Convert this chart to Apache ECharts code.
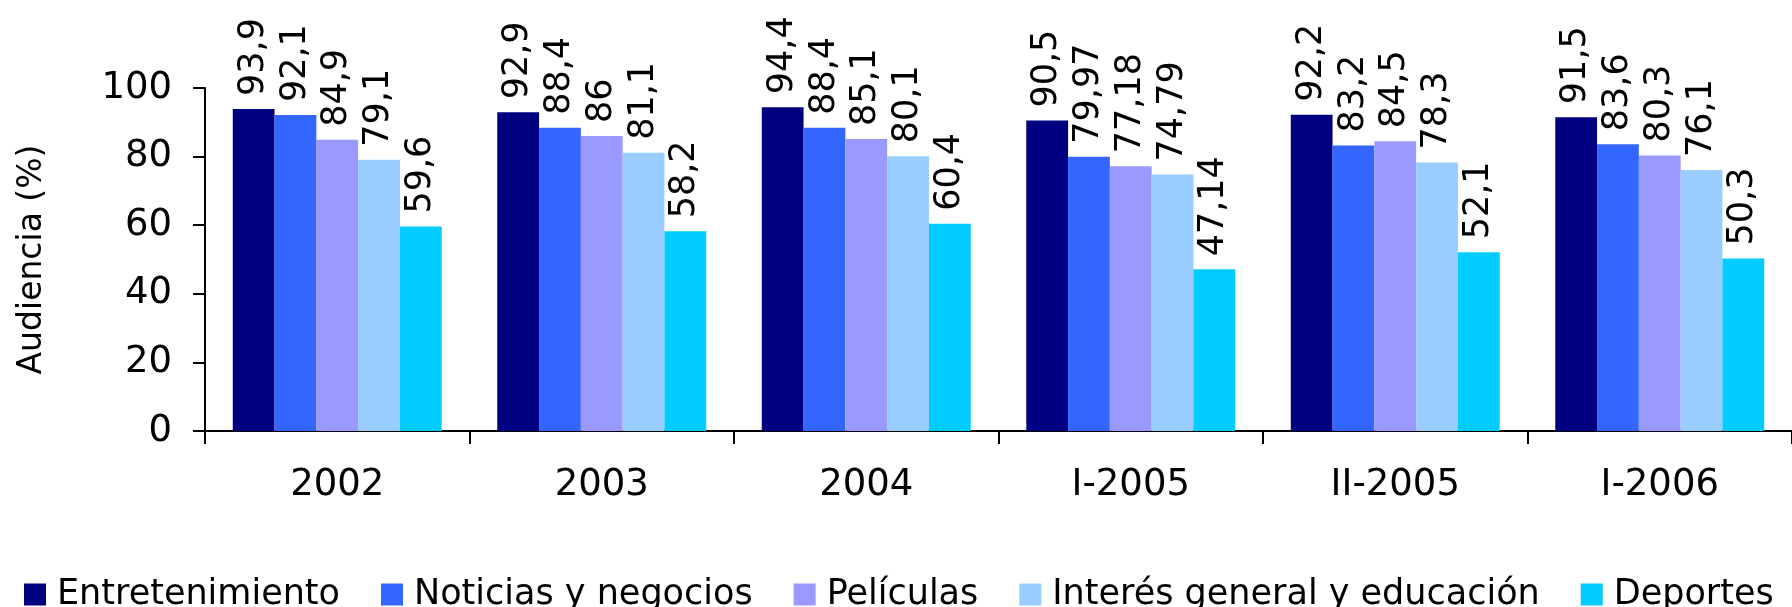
<!DOCTYPE html>
<html>
<head>
<meta charset="utf-8">
<title>Audiencia por tipo de programa</title>
<script src="https://cdn.jsdelivr.net/npm/echarts@6/dist/echarts.min.js"></script>
<style>
  html, body { margin: 0; padding: 0; background: #ffffff; }
  #chart { width: 1792px; height: 607px; }
</style>
</head>
<body>
<div id="chart"></div>
<script>
// Periods on the category axis
const periods = ['2002', '2003', '2004', 'I-2005', 'II-2005', 'I-2006'];

// Audience share (%) per programme type, one value per period
const entretenimiento = [93.9, 92.9, 94.4, 90.5, 92.2, 91.5];
const noticias = [92.1, 88.4, 88.4, 79.97, 83.2, 83.6];
const peliculas = [84.9, 86, 85.1, 77.18, 84.5, 80.3];
const interesGeneral = [79.1, 81.1, 80.1, 74.79, 78.3, 76.1];
const deportes = [59.6, 58.2, 60.4, 47.14, 52.1, 50.3];

// Value axis ticks
const yTicks = [0, 20, 40, 60, 80, 100];

const seriesDefs = [
  { name: 'Entretenimiento', data: entretenimiento, color: '#000080' },
  { name: 'Noticias y negocios', data: noticias, color: '#3366FF' },
  { name: 'Películas', data: peliculas, color: '#9999FF' },
  { name: 'Interés general y educación', data: interesGeneral, color: '#99CCFF' },
  { name: 'Deportes', data: deportes, color: '#00CCFF' }
];

const FONT = 'DejaVu Sans, Verdana, sans-serif';

const chart = echarts.init(document.getElementById('chart'), null, { renderer: 'canvas' });

chart.setOption({
  animation: false,
  backgroundColor: '#ffffff',
  textStyle: { fontFamily: FONT, color: '#000000' },
  grid: { left: 205, right: -10, top: 88, bottom: 176, containLabel: false },
  legend: {
    left: 19,
    top: 572,
    itemWidth: 22,
    itemHeight: 22,
    itemGap: 41,
    icon: 'rect',
    textStyle: { fontFamily: FONT, fontSize: 35, color: '#000000', padding: [0, 0, 0, 6] },
    data: seriesDefs.map(s => s.name)
  },
  xAxis: {
    type: 'category',
    data: periods,
    axisLine: { lineStyle: { color: '#000000', width: 2 } },
    axisTick: { show: true, length: 13, lineStyle: { color: '#000000', width: 2 } },
    axisLabel: { fontFamily: FONT, fontSize: 37, color: '#000000', margin: 36 },
    splitLine: { show: false }
  },
  yAxis: {
    type: 'value',
    min: yTicks[0],
    max: yTicks[yTicks.length - 1],
    interval: yTicks[1] - yTicks[0],
    name: 'Audiencia (%)',
    nameLocation: 'middle',
    nameGap: 156,
    nameTextStyle: { fontFamily: FONT, fontSize: 33, color: '#000000' },
    axisLine: { show: true, lineStyle: { color: '#000000', width: 2 } },
    axisTick: { show: true, length: 12, lineStyle: { color: '#000000', width: 2 } },
    axisLabel: { fontFamily: FONT, fontSize: 37, color: '#000000', margin: 33 },
    splitLine: { show: false }
  },
  series: seriesDefs.map(s => ({
    name: s.name,
    type: 'bar',
    data: s.data,
    barGap: '0%',
    barCategoryGap: '21%',
    itemStyle: { color: s.color },
    label: {
      show: true,
      position: 'top',
      rotate: 90,
      align: 'left',
      verticalAlign: 'middle',
      distance: 13,
      fontFamily: FONT,
      fontSize: 35,
      color: '#000000',
      formatter: p => String(p.value).replace('.', ',')
    }
  }))
});
</script>
</body>
</html>
